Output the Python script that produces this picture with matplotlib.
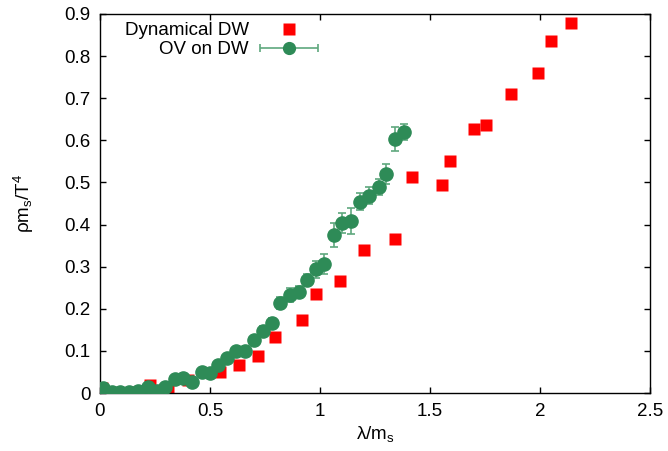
import numpy as np
import matplotlib
matplotlib.use("Agg")
import matplotlib.pyplot as plt
from matplotlib.legend_handler import HandlerErrorbar

plt.rcParams["font.family"] = ["Liberation Sans", "DejaVu Sans"]
plt.rcParams["mathtext.fontset"] = "custom"
plt.rcParams["mathtext.rm"] = "Liberation Sans"
plt.rcParams["mathtext.default"] = "regular"

# Dynamical DW (red squares)
dw_x = [0.01, 0.17, 0.227, 0.31, 0.40, 0.545, 0.63, 0.72, 0.795, 0.92, 0.98,
        1.09, 1.20, 1.34, 1.42, 1.556, 1.59, 1.70, 1.756, 1.87, 1.99, 2.05, 2.14]
dw_y = [0.012, 0.002, 0.019, 0.014, 0.03, 0.05, 0.066, 0.088, 0.133, 0.173, 0.235,
        0.266, 0.34, 0.366, 0.513, 0.494, 0.551, 0.627, 0.636, 0.71, 0.76, 0.836, 0.879]

# OV on DW (green circles with error bars)
ov_x = [0.014, 0.054, 0.091, 0.132, 0.172, 0.218, 0.259, 0.295, 0.34, 0.377,
        0.417, 0.463, 0.499, 0.535, 0.576, 0.617, 0.658, 0.699, 0.74, 0.78,
        0.82, 0.862, 0.903, 0.94, 0.98, 1.02, 1.062, 1.10, 1.143, 1.184,
        1.225, 1.266, 1.302, 1.343, 1.384]
ov_y = [0.012, 0.002, 0.002, 0.002, 0.005, 0.014, 0.005, 0.014, 0.033, 0.036,
        0.026, 0.05, 0.048, 0.067, 0.083, 0.10, 0.10, 0.125, 0.148, 0.166,
        0.214, 0.233, 0.24, 0.268, 0.294, 0.306, 0.375, 0.403, 0.409, 0.454,
        0.468, 0.489, 0.52, 0.603, 0.62]
ov_err = [0.002, 0.002, 0.002, 0.002, 0.002, 0.003, 0.003, 0.003, 0.004, 0.004,
          0.004, 0.005, 0.005, 0.006, 0.006, 0.007, 0.007, 0.008, 0.01, 0.011,
          0.015, 0.017, 0.015, 0.015, 0.02, 0.024, 0.028, 0.024, 0.031, 0.02,
          0.02, 0.018, 0.023, 0.028, 0.019]

green = "#2e8b57"
FS = 13.5

fig = plt.figure(figsize=(6.68, 4.51), dpi=100)
ax = fig.add_axes([0.1497, 0.1286, 0.8233, 0.8404])

ax.plot(dw_x, dw_y, "s", color="red", ms=9, mec="none", label="Dynamical DW", zorder=2)
ax.errorbar(ov_x, ov_y, yerr=ov_err, fmt="o", color=green, ms=9.5,
            ecolor="#5fa87e", elinewidth=1.2, capsize=3, capthick=1.2, zorder=3)

# legend proxy drawn gnuplot-style (horizontal bar)
proxy = ax.errorbar([np.nan], [np.nan], xerr=[np.nan], fmt="o", color=green, ms=8.5,
                    ecolor="#5fa87e", elinewidth=1.2, capsize=3, capthick=1.2,
                    label="OV on DW")

ax.set_xlim(0, 2.5)
ax.set_ylim(0, 0.9)
ax.set_xticks([0, 0.5, 1, 1.5, 2, 2.5])
ax.set_xticklabels(["0", "0.5", "1", "1.5", "2", "2.5"])
ax.set_yticks(np.arange(0, 0.91, 0.1))
ax.set_yticklabels(["0", "0.1", "0.2", "0.3", "0.4", "0.5", "0.6", "0.7", "0.8", "0.9"])
ax.tick_params(direction="in", top=True, right=True, length=4.5, width=1,
               labelsize=FS, pad=7)
for s in ax.spines.values():
    s.set_linewidth(1)

ax.set_xlabel(r"λ/m$_{s}$", fontsize=FS, labelpad=3)
ax.set_ylabel(r"ρm$_{s}$/T$^{4}$", fontsize=FS, labelpad=20)

leg = ax.legend(loc="upper right", bbox_to_anchor=(0.397, 0.978), frameon=False,
                markerfirst=False, fontsize=FS, handlelength=3.1, handletextpad=0.6,
                labelspacing=0.1, borderaxespad=0.0, borderpad=0.0,
                handler_map={type(proxy): HandlerErrorbar(xerr_size=1.55)})
for col in leg._legend_handle_box.get_children():
    col.align = "right"

fig.savefig("out.png", dpi=100)
